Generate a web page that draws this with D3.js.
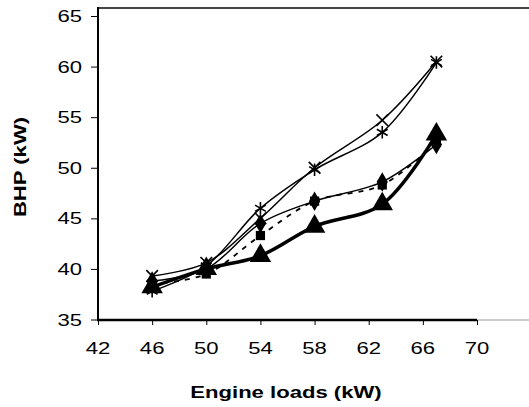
<!DOCTYPE html>
<html>
<head>
<meta charset="utf-8">
<script src="https://cdn.jsdelivr.net/npm/d3@7/dist/d3.min.js"></script>
<style>
  body { margin: 0; background: #fff; }
  text { font-family: "Liberation Sans", Arial, sans-serif; fill: #000; }
</style>
</head>
<body>
<svg id="root" width="529" height="407"></svg>
<script>
// engine loads (x) and BHP values per series
const loads = [46, 50, 54, 58, 63, 67]
const xSeries = [39.3, 40.6, 45.0, 50.0, 54.7, 60.5]
const starSeries = [37.8, 40.3, 46.0, 49.8, 53.5, 60.4]
const diamondSeries = [38.8, 40.0, 44.5, 46.7, 48.6, 52.3]
const squareSeries = [38.5, 39.5, 43.3, 46.7, 48.3, 52.5]
const triangleSeries = [38.2, 40.0, 41.3, 44.2, 46.4, 53.3]
const xTicks = [42, 46, 50, 54, 58, 62, 66, 70]
const yTicks = [35, 40, 45, 50, 55, 60, 65]

const root = d3.select('#root')
const x = d3.scaleLinear().domain([42, 70]).range([98, 477])
const y = d3.scaleLinear().domain([35, 65]).range([319.5, 16])
const stretch = 1.3 // text in the picture is widened

function label (px, py, str, anchor, bold, rot) {
  root.append('text')
    .attr('transform', `translate(${px},${py})` + (rot ? ` rotate(${rot})` : '') + ` scale(${stretch},1)`)
    .attr('text-anchor', anchor)
    .style('font-size', '17px')
    .style('font-weight', bold ? 'bold' : 'normal')
    .text(str)
}

// frame: top border and light extension of x axis
root.append('line')
  .attr('x1', 98).attr('x2', 529).attr('y1', 8).attr('y2', 8)
  .attr('stroke', '#444').attr('stroke-width', 2)
root.append('line')
  .attr('x1', 477).attr('x2', 529).attr('y1', 320).attr('y2', 320)
  .attr('stroke', '#bbb').attr('stroke-width', 1.5)

// y axis
const yAxis = root.append('g').attr('transform', 'translate(98,0)')
  .call(d3.axisLeft(y).tickValues(yTicks).tickSize(7).tickFormat(''))
yAxis.select('.domain').remove()
root.append('line')
  .attr('x1', 98).attr('x2', 98).attr('y1', 7).attr('y2', 321)
  .attr('stroke', '#000').attr('stroke-width', 2)
yTicks.forEach((t) => label(82, y(t) + 6, t, 'end', false))

// x axis
const xAxis = root.append('g').attr('transform', 'translate(0,320)')
  .call(d3.axisBottom(x).tickValues(xTicks).tickSize(5).tickFormat(''))
xAxis.select('.domain').remove()
root.append('line')
  .attr('x1', 97).attr('x2', 477).attr('y1', 320).attr('y2', 320)
  .attr('stroke', '#000').attr('stroke-width', 2.5)
xTicks.forEach((t) => label(x(t), 354, t, 'middle', false))

// titles
label(286, 398, 'Engine loads (kW)', 'middle', true)
label(26, 167, 'BHP (kW)', 'middle', true, -90)

const line = d3.line()
  .x((d, i) => x(loads[i]))
  .y((d) => y(d))
  .curve(d3.curveCatmullRom.alpha(0.5))

function drawLine (data, width, dash) {
  root.append('path')
    .attr('d', line(data))
    .attr('fill', 'none')
    .attr('stroke', '#000')
    .attr('stroke-width', width)
    .attr('stroke-dasharray', dash)
}

drawLine(xSeries, 1.5, null)
drawLine(starSeries, 1.5, null)
drawLine(diamondSeries, 1.5, null)
drawLine(squareSeries, 1.8, '5,6')
drawLine(triangleSeries, 3.5, null)

function drawMarkers (data, symbolType, size, fill) {
  root.selectAll(null).data(data).enter().append('path')
    .attr('transform', (d, i) => `translate(${x(loads[i])},${y(d)})`)
    .attr('d', d3.symbol().type(symbolType).size(size))
    .attr('fill', fill ? '#000' : 'none')
    .attr('stroke', '#000')
    .attr('stroke-width', fill ? 0 : 1.6)
}

drawMarkers(xSeries, d3.symbolTimes, 90, false)
drawMarkers(starSeries, d3.symbolAsterisk, 110, false)
drawMarkers(diamondSeries, d3.symbolDiamond, 110, true)
drawMarkers(squareSeries, d3.symbolSquare, 85, true)
drawMarkers(triangleSeries, d3.symbolTriangle, 200, true)
</script>
</body>
</html>
